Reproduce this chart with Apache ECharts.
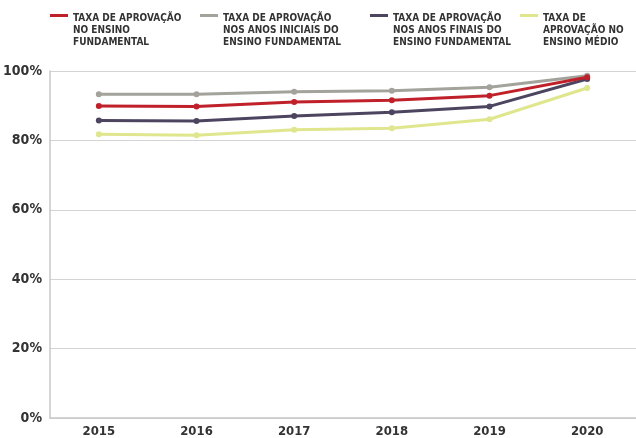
<!DOCTYPE html>
<html>
<head>
<meta charset="utf-8">
<script src="https://cdn.jsdelivr.net/npm/echarts@6/dist/echarts.min.js"></script>
<style>
  html, body { margin: 0; padding: 0; background: #fff; }
  #chart { width: 636px; height: 438px; }
</style>
</head>
<body>
<div id="chart"></div>
<script>
  const anos = ['2015', '2016', '2017', '2018', '2019', '2020'];
  const ensinoFundamental = [89.9, 89.8, 91.1, 91.6, 92.9, 98.2];
  const anosIniciais = [93.3, 93.3, 94.0, 94.3, 95.3, 98.6];
  const anosFinais = [85.7, 85.6, 87.0, 88.1, 89.8, 97.7];
  const ensinoMedio = [81.8, 81.5, 83.1, 83.5, 86.1, 95.1];

  const nomes = [
    'TAXA DE APROVAÇÃO\nNO ENSINO\nFUNDAMENTAL',
    'TAXA DE APROVAÇÃO\nNOS ANOS INICIAIS DO\nENSINO FUNDAMENTAL',
    'TAXA DE APROVAÇÃO\nNOS ANOS FINAIS DO\nENSINO FUNDAMENTAL',
    'TAXA DE\nAPROVAÇÃO NO\nENSINO MÉDIO'
  ];
  const cores = ['#c0202a', '#a3a39c', '#4d4560', '#dfe68e'];
  const fonte = '"Liberation Sans Narrow", "DejaVu Sans Condensed", sans-serif';
  const legendaX = [45, 195, 365, 515];

  // traço no topo + ponto quase invisível embaixo, para o ícone ficar na 1a linha
  const icone = 'path://M0,0 h18 v3 h-18 Z M9,32 h0.01 v0.01 h-0.01 Z';

  function serie(nome, dados, cor, z) {
    return {
      name: nome,
      type: 'line',
      data: dados,
      z: z,
      symbol: 'circle',
      symbolSize: 6,
      lineStyle: { color: cor, width: 3 },
      itemStyle: { color: cor },
      emphasis: { disabled: true }
    };
  }

  const legendas = nomes.map((nome, i) => ({
    top: 7,
    left: legendaX[i],
    itemWidth: 18,
    itemHeight: 33,
    icon: icone,
    selectedMode: false,
    textStyle: {
      fontFamily: fonte,
      fontWeight: 'bold',
      fontSize: 10,
      lineHeight: 12,
      color: '#333'
    },
    data: [nome]
  }));

  const chart = echarts.init(document.getElementById('chart'));
  chart.setOption({
    animation: false,
    color: cores,
    legend: legendas,
    grid: { left: 50, right: -3, top: 71, bottom: 20 },
    xAxis: {
      type: 'category',
      data: anos,
      boundaryGap: true,
      axisLine: { lineStyle: { color: '#c8c8c8', width: 1.5 } },
      axisTick: { show: false },
      axisLabel: {
        fontFamily: fonte,
        fontWeight: 'bold',
        fontSize: 13,
        color: '#333',
        margin: 7
      }
    },
    yAxis: {
      type: 'value',
      min: 0,
      max: 100,
      interval: 20,
      axisLine: { show: true, lineStyle: { color: '#c8c8c8', width: 1.5 } },
      axisTick: { show: false },
      splitLine: { lineStyle: { color: '#d4d4d4', width: 1 } },
      axisLabel: {
        formatter: '{value}%',
        fontFamily: fonte,
        fontWeight: 'bold',
        fontSize: 14,
        color: '#333',
        margin: 8
      }
    },
    series: [
      serie(nomes[1], anosIniciais, cores[1], 2),
      serie(nomes[3], ensinoMedio, cores[3], 3),
      serie(nomes[2], anosFinais, cores[2], 4),
      serie(nomes[0], ensinoFundamental, cores[0], 5)
    ]
  });
</script>
</body>
</html>
